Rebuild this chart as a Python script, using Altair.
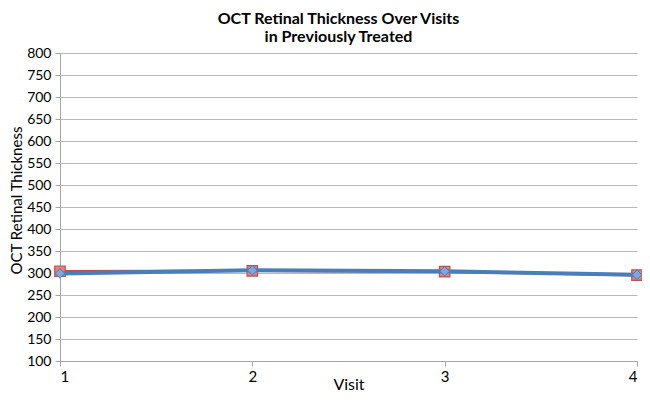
import altair as alt
import pandas as pd

visits = [1, 2, 3, 4]
series_a = [304, 305, 303, 295]   # red squares
series_b = [299, 306, 304, 296]   # blue diamonds
y_ticks = list(range(100, 801, 50))

df = pd.DataFrame({
    "Visit": visits * 2,
    "Value": series_a + series_b,
    "Series": ["A"] * 4 + ["B"] * 4,
})

FONT = "Lato"

x = alt.X("Visit:Q", scale=alt.Scale(domain=[1, 4], nice=False, zero=False),
          axis=alt.Axis(values=visits, format="d", title="Visit", grid=False,
                        labelFontSize=15, titleFontSize=16, titleFontWeight="normal",
                        labelColor="black", titleColor="black",
                        domainColor="#a6a6a6", tickColor="#a6a6a6", tickSize=5,
                        labelPadding=3, titleY=28, titleBaseline="alphabetic",
                        labelFont=FONT, titleFont=FONT))
y = alt.Y("Value:Q", scale=alt.Scale(domain=[100, 800], nice=False, zero=False),
          axis=alt.Axis(values=y_ticks, title="OCT Retinal Thickness", grid=True,
                        gridColor="#b8b8b8", gridWidth=1,
                        labelFontSize=14, titleFontSize=15, titleFontWeight="normal",
                        labelColor="black", titleColor="black",
                        domainColor="#a6a6a6", tickColor="#a6a6a6", tickSize=5,
                        labelPadding=4, titleX=-51, titleY=147, titleBaseline="top",
                        titleAngle=270, titleAlign="center",
                        labelFont=FONT, titleFont=FONT))

base = alt.Chart(df)
red = base.transform_filter(alt.datum.Series == "A")
blue = base.transform_filter(alt.datum.Series == "B")

red_line = red.mark_line(color="#c0504d", strokeWidth=2.5).encode(x=x, y=y)
red_pts = red.mark_point(shape="square", size=110, filled=True, fill="#e0807c",
                         stroke="#c0504d", strokeWidth=1.2, opacity=1).encode(x=x, y=y)
blue_line = blue.mark_line(color="#4a7ebb", strokeWidth=4).encode(x=x, y=y)
blue_pts = blue.mark_point(shape="diamond", size=90, filled=True, fill="#7fa6de",
                           stroke="#4a7ebb", strokeWidth=1, opacity=1).encode(x=x, y=y)

chart = alt.layer(red_line, red_pts, blue_line, blue_pts).properties(
    width=577, height=308,
    title=alt.TitleParams(text=["OCT Retinal Thickness Over Visits", "in Previously Treated"],
                          fontSize=16, fontWeight="bold", font=FONT, color="black",
                          anchor="middle", lineHeight=18, offset=1, dx=-10),
    autosize=alt.AutoSizeParams(type="none"),
    padding={"left": 52, "top": 45, "right": 5, "bottom": 33},
    background="white",
).configure_view(stroke=None)

chart.save("out.html", embed_options={"renderer": "svg", "actions": False})
